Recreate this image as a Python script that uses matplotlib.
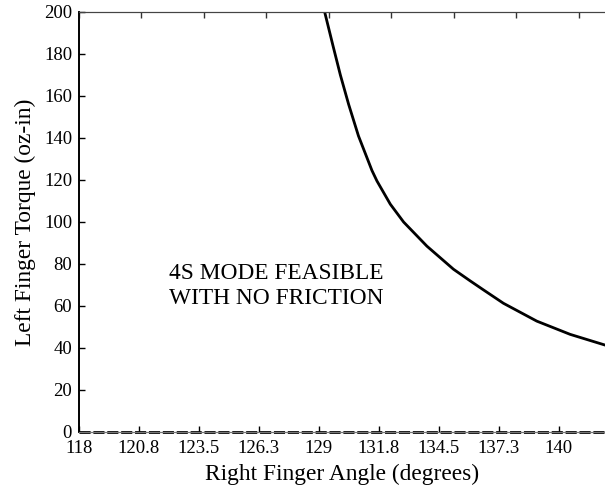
import numpy as np
import matplotlib
matplotlib.use("Agg")
import matplotlib.pyplot as plt

# boundary curve
angle = [129.27, 129.65, 129.99, 130.37, 130.82, 131.44, 131.67, 132.28, 132.89,
         133.96, 135.18, 135.94, 136.55, 137.47, 139.00, 140.53, 142.13]
torque = [200.0, 184.0, 170.0, 156.0, 141.0, 124.5, 119.5, 108.5, 100.0,
          88.5, 77.5, 72.0, 67.7, 61.3, 52.8, 46.5, 41.4]

xticks = [118, 120.75, 123.5, 126.25, 129, 131.75, 134.5, 137.25, 140]
xticklabels = ["118", "120.8", "123.5", "126.3", "129", "131.8", "134.5", "137.3", "140"]
yticks = [0, 20, 40, 60, 80, 100, 120, 140, 160, 180, 200]
zero_line = 0.0

plt.rcParams['font.family'] = ['Liberation Serif', 'DejaVu Serif']

fig = plt.figure(figsize=(6.05, 4.87), dpi=100)
ax = fig.add_axes([79 / 605, 55 / 487, 526 / 605, 420 / 487])

ax.plot(angle, torque, color='black', lw=2.0, solid_joinstyle='round')
ax.axhline(zero_line, color='black', lw=2.0, dashes=(4, 1), clip_on=False)

ax.set_xlim(118, 142.13)
ax.set_ylim(0, 200)
ax.set_xticks(xticks)
ax.set_xticklabels(xticklabels)
ax.set_yticks(yticks)
ax.tick_params(direction='in', length=4, width=1, labelsize=13.5, pad=5)
ax.tick_params(axis='x', pad=6)

# top ticks (spaced differently from the bottom ones)
top = ax.twiny()
top.set_xlim(ax.get_xlim())
top.set_xticks([118 + 2.8646 * k for k in range(9)])
top.tick_params(direction='in', length=4, width=1, labeltop=False, colors='#333333')

for a in (ax, top):
    a.spines['right'].set_visible(False)
    a.spines['top'].set_color('#444444')
    a.spines['bottom'].set_color('#777777')
    a.spines['left'].set_linewidth(1.2)

ax.set_xlabel('Right Finger Angle (degrees)', fontsize=16.8, labelpad=5)
ax.set_ylabel('Left Finger Torque (oz-in)', fontsize=16.8, labelpad=6)

ax.text(127.05, 69.5, '4S MODE FEASIBLE\nWITH NO FRICTION', ha='center', va='center',
        fontsize=16.8, linespacing=1.2)

fig.savefig('out.png', dpi=100)
